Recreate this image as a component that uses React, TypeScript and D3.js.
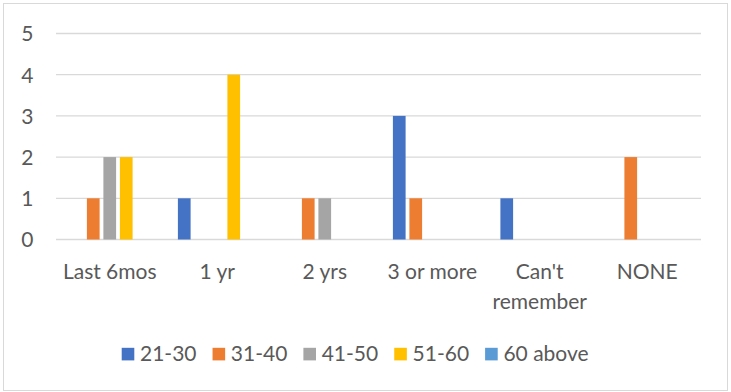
import React, { useEffect } from "react";
import * as d3 from "d3";

const categories = ["Last 6mos", "1 yr", "2 yrs", "3 or more", "Can't remember", "NONE"];
const seriesNames = ["21-30", "31-40", "41-50", "51-60", "60 above"];
const seriesColors = ["#4472C4", "#ED7D31", "#A5A5A5", "#FFC000", "#5B9BD5"];
const s2130 = [0, 1, 0, 3, 1, 0];
const s3140 = [1, 0, 1, 1, 0, 2];
const s4150 = [2, 0, 1, 0, 0, 0];
const s5160 = [2, 4, 0, 0, 0, 0];
const s60above = [0, 0, 0, 0, 0, 0];
const yTicks = [0, 1, 2, 3, 4, 5];

const W = 731;
const H = 392;
const FONT = "Lato, 'Liberation Sans', sans-serif";
const TEXT = "#595959";
const GRID = "#D9D9D9";

export default function App() {
  useEffect(() => {
    document.body.style.margin = "0";
  }, []);

  const series = [s2130, s3140, s4150, s5160, s60above];
  const x = d3.scaleBand<string>().domain(categories).range([56, 701]).padding(0);
  const y = d3.scaleLinear().domain([0, 5]).range([239.5, 33.5]);
  const barW = 12.7;
  const barStep = 16.5;
  const inner = d3
    .scaleLinear()
    .domain([0, seriesNames.length - 1])
    .range([-2 * barStep - barW / 2, 2 * barStep - barW / 2]);

  const legendStart = 121.7;
  const legendStride = 90.85;

  return (
    <svg
      width={W}
      height={H}
      style={{ display: "block", position: "absolute", left: 0, top: 0, background: "#fff" }}
      fontFamily={FONT}
    >
      <rect x={0} y={0} width={W} height={H} fill="#fff" />
      <rect x={3.5} y={3.5} width={724} height={387} fill="none" stroke={GRID} strokeWidth={1} />
      {yTicks.map((t) => (
        <g key={t}>
          <line x1={56} x2={701} y1={y(t)} y2={y(t)} stroke={GRID} strokeWidth={1.3} />
          <text x={33.5} y={y(t) + 7.8} textAnchor="end" fontSize={21} fill={TEXT}>
            {t}
          </text>
        </g>
      ))}
      {categories.map((c, ci) => {
        const cx = (x(c) as number) + x.bandwidth() / 2;
        return (
          <g key={c}>
            {series.map((s, si) =>
              s[ci] > 0 ? (
                <rect
                  key={si}
                  x={cx + inner(si)}
                  y={y(s[ci])}
                  width={barW}
                  height={y(0) - y(s[ci])}
                  fill={seriesColors[si]}
                />
              ) : null
            )}
            {c.split(" ").length > 1 && c === "Can't remember" ? (
              <text x={cx} y={279} textAnchor="middle" fontSize={21} fill={TEXT}>
                <tspan x={cx}>Can't</tspan>
                <tspan x={cx} dy={30}>
                  remember
                </tspan>
              </text>
            ) : (
              <text x={cx} y={279} textAnchor="middle" fontSize={21} fill={TEXT}>
                {c}
              </text>
            )}
          </g>
        );
      })}
      {seriesNames.map((n, i) => {
        const lx = legendStart + i * legendStride;
        return (
          <g key={n}>
            <rect x={lx} y={347.8} width={12.6} height={12.6} fill={seriesColors[i]} />
            <text x={lx + 18.3} y={361} fontSize={21} fill={TEXT}>
              {n}
            </text>
          </g>
        );
      })}
    </svg>
  );
}
